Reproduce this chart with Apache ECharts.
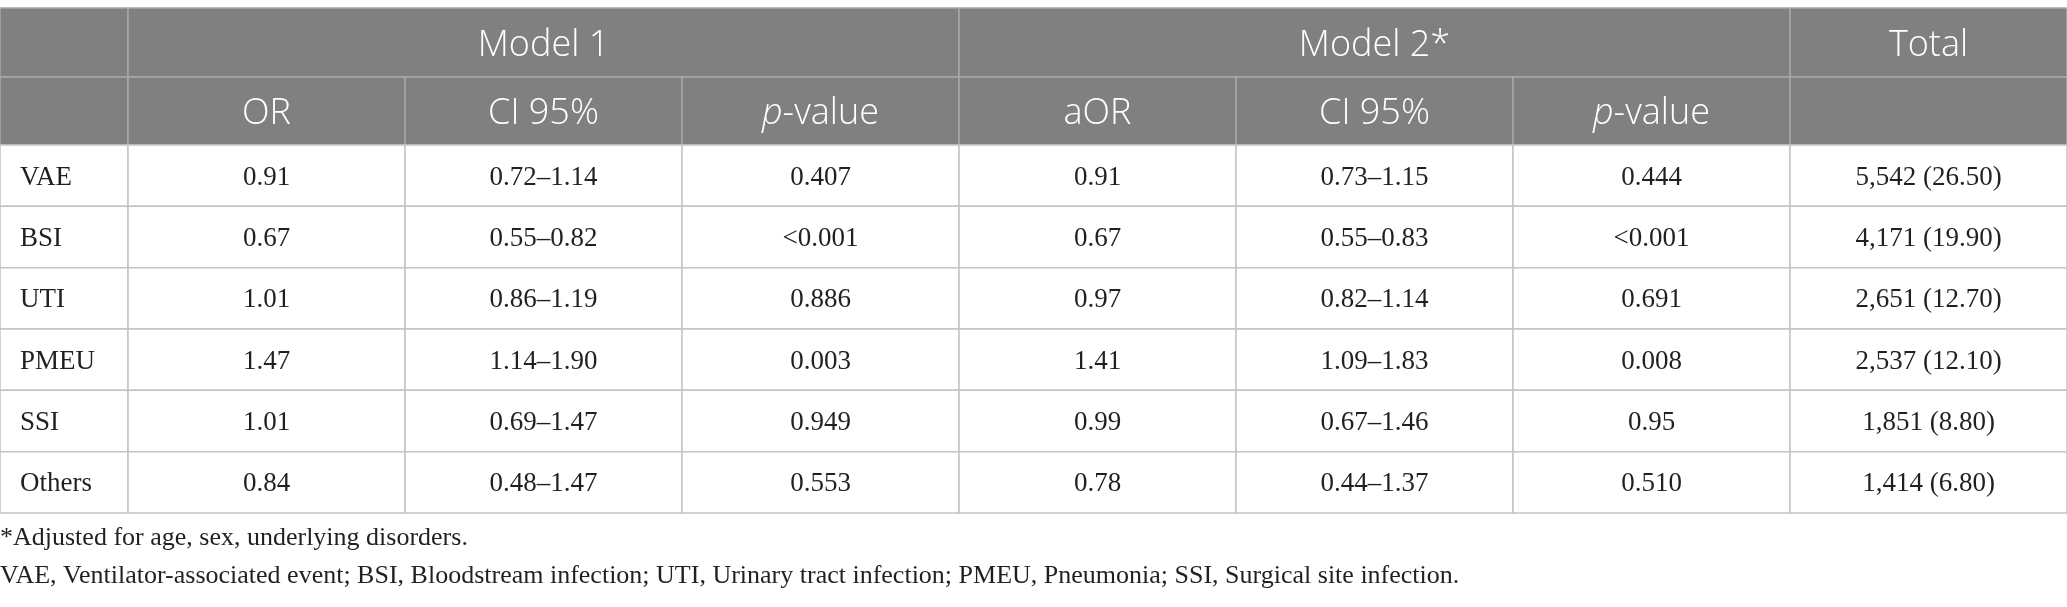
<!DOCTYPE html>
<html>
<head>
<meta charset="utf-8">
<script src="https://cdn.jsdelivr.net/npm/echarts@6/dist/echarts.min.js"></script>
<style>
  html, body { margin: 0; padding: 0; background: #ffffff; }
  #chart { width: 2067px; height: 607px; }
</style>
</head>
<body>
<div id="chart"></div>
<script>
// ---------- data ----------
const rowLabels = ['VAE', 'BSI', 'UTI', 'PMEU', 'SSI', 'Others'];
const orModel1 = ['0.91', '0.67', '1.01', '1.47', '1.01', '0.84'];
const ciModel1 = ['0.72–1.14', '0.55–0.82', '0.86–1.19', '1.14–1.90', '0.69–1.47', '0.48–1.47'];
const pModel1 = ['0.407', '<0.001', '0.886', '0.003', '0.949', '0.553'];
const aorModel2 = ['0.91', '0.67', '0.97', '1.41', '0.99', '0.78'];
const ciModel2 = ['0.73–1.15', '0.55–0.83', '0.82–1.14', '1.09–1.83', '0.67–1.46', '0.44–1.37'];
const pModel2 = ['0.444', '<0.001', '0.691', '0.008', '0.95', '0.510'];
const totals = ['5,542 (26.50)', '4,171 (19.90)', '2,651 (12.70)', '2,537 (12.10)', '1,851 (8.80)', '1,414 (6.80)'];
const groupHeaders = ['Model 1', 'Model 2*', 'Total'];
const subHeaders = ['OR', 'CI 95%', 'p-value', 'aOR', 'CI 95%', 'p-value'];
const footnotes = [
  '*Adjusted for age, sex, underlying disorders.',
  'VAE, Ventilator-associated event; BSI, Bloodstream infection; UTI, Urinary tract infection; PMEU, Pneumonia; SSI, Surgical site infection.'
];

// ---------- layout ----------
const colWidths = [128, 277, 277, 277, 277, 277, 277, 277];
const rowHeights = [69, 68, 61.33, 61.33, 61.33, 61.33, 61.33, 61.35];
const colEdges = [0];
colWidths.forEach(w => colEdges.push(colEdges[colEdges.length - 1] + w));
const rowEdges = [0];
rowHeights.forEach(h => rowEdges.push(rowEdges[rowEdges.length - 1] + h));

const HEAD_BG = '#808080';
const HEAD_LINE = '#a8a8a8';
const BODY_LINE = '#c4c4c4';
const TEXT = '#231f20';
const SANS = '"Open Sans", sans-serif';
const SERIF = '"Liberation Serif", serif';

// ---------- cells ----------
const cells = [];
function addCell(c0, c1, r0, r1, text, kind, align) {
  cells.push({ c0, c1, r0, r1, text, kind, align: align || 'center' });
}
// header row 1
addCell(0, 1, 0, 1, '', 'head');
addCell(1, 4, 0, 1, groupHeaders[0], 'head');
addCell(4, 7, 0, 1, groupHeaders[1], 'head');
addCell(7, 8, 0, 1, groupHeaders[2], 'head');
// header row 2
addCell(0, 1, 1, 2, '', 'head');
subHeaders.forEach((t, i) => addCell(i + 1, i + 2, 1, 2, t, 'head'));
addCell(7, 8, 1, 2, '', 'head');
// body
const bodyCols = [orModel1, ciModel1, pModel1, aorModel2, ciModel2, pModel2, totals];
rowLabels.forEach((lab, i) => {
  addCell(0, 1, i + 2, i + 3, lab, 'body', 'left');
  bodyCols.forEach((col, j) => addCell(j + 1, j + 2, i + 2, i + 3, col[i], 'body'));
});

const cellData = cells.map(c => [colEdges[c.c0], colEdges[c.c1], rowEdges[c.r0], rowEdges[c.r1]]);

function renderCell(params, api) {
  const cell = cells[params.dataIndex];
  const p0 = api.coord([api.value(0), api.value(2)]);
  const p1 = api.coord([api.value(1), api.value(3)]);
  const x0 = p0[0], y0 = p0[1], x1 = p1[0], y1 = p1[1];
  const isHead = cell.kind === 'head';
  const children = [{
    type: 'rect',
    shape: { x: x0, y: y0, width: x1 - x0, height: y1 - y0 },
    style: { fill: isHead ? HEAD_BG : '#ffffff', stroke: isHead ? HEAD_LINE : BODY_LINE, lineWidth: 1.5 }
  }];
  if (cell.text) {
    const font = isHead ? SANS : SERIF;
    const size = isHead ? 36 : 27;
    const weight = isHead ? 300 : 400;
    const color = isHead ? '#ffffff' : TEXT;
    let txt = cell.text;
    let rich = undefined;
    if (txt.indexOf('p-value') === 0) {
      txt = '{i|p}{n|-value}';
      rich = {
        i: { fontFamily: font, fontSize: size, fontWeight: weight, fontStyle: 'italic', fill: color, color: color },
        n: { fontFamily: font, fontSize: size, fontWeight: weight, fill: color, color: color }
      };
    }
    const tx = cell.align === 'left' ? x0 + 20 : (x0 + x1) / 2;
    children.push({
      type: 'text',
      x: tx,
      y: (y0 + y1) / 2 + (isHead ? 3 : 2),
      style: {
        text: txt,
        rich: rich,
        fontFamily: font,
        fontSize: size,
        fontWeight: weight,
        fill: color,
        align: cell.align,
        verticalAlign: 'middle'
      }
    });
  }
  return { type: 'group', children };
}

const chart = echarts.init(document.getElementById('chart'), null, { renderer: 'canvas' });
chart.setOption({
  animation: false,
  backgroundColor: '#ffffff',
  grid: { left: 0, width: colEdges[colEdges.length - 1], top: 8, height: rowEdges[rowEdges.length - 1], containLabel: false },
  xAxis: { type: 'value', min: 0, max: colEdges[colEdges.length - 1], show: false },
  yAxis: { type: 'value', min: 0, max: rowEdges[rowEdges.length - 1], inverse: true, show: false },
  series: [{
    type: 'custom',
    clip: false,
    silent: true,
    encode: { x: [0, 1], y: [2, 3] },
    data: cellData,
    renderItem: renderCell
  }],
  graphic: footnotes.map((t, i) => ({
    type: 'text',
    x: 0,
    y: 538 + i * 38,
    style: {
      text: t,
      fontFamily: SERIF,
      fontSize: 26,
      fill: TEXT,
      align: 'left',
      verticalAlign: 'middle'
    }
  }))
});
</script>
</body>
</html>
